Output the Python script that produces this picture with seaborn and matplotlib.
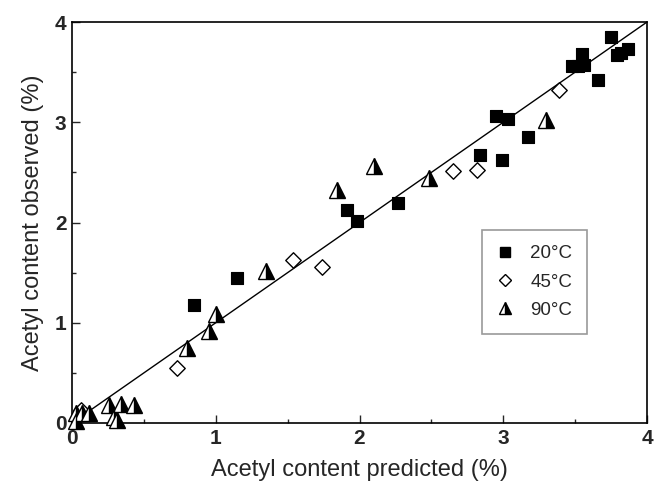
import matplotlib
matplotlib.use("Agg")
import matplotlib.pyplot as plt
from matplotlib.lines import Line2D
import seaborn as sns
import pandas as pd

# ---- data ----
sq_x = [0.85, 1.15, 1.91, 1.98, 2.27, 2.84, 2.99, 2.95, 3.03, 3.17,
        3.48, 3.55, 3.56, 3.52, 3.66, 3.75, 3.79, 3.82, 3.87]
sq_y = [1.18, 1.45, 2.12, 2.02, 2.19, 2.67, 2.62, 3.06, 3.03, 2.85,
        3.56, 3.68, 3.57, 3.56, 3.42, 3.85, 3.67, 3.69, 3.73]

dm_x = [0.06, 0.73, 1.54, 1.74, 2.65, 2.82, 3.39]
dm_y = [0.13, 0.55, 1.63, 1.56, 2.51, 2.52, 3.32]

tr_x = [0.03, 0.07, 0.12, 0.26, 0.34, 0.43, 0.29, 0.31, 0.03,
        0.80, 0.95, 1.00, 1.35, 1.84, 2.10, 2.48, 3.30]
tr_y = [0.10, 0.10, 0.10, 0.18, 0.19, 0.18, 0.06, 0.03, 0.02,
        0.745, 0.92, 1.087, 1.52, 2.32, 2.56, 2.44, 3.02]

fit_x = [0.1, 4.0]
fit_y = [0.1, 4.0]

labels = ["20°C", "45°C", "90°C"]
ticks = [0, 1, 2, 3, 4]

# ---- style ----
sns.set_style("ticks")
plt.rcParams["font.family"] = ["Liberation Sans", "DejaVu Sans"]

fig = plt.figure(figsize=(6.56, 4.96), dpi=100)
ax = fig.add_axes([0.1098, 0.1472, 0.8765, 0.8084])

sq = pd.DataFrame({"x": sq_x, "y": sq_y})
dm = pd.DataFrame({"x": dm_x, "y": dm_y})
tr = pd.DataFrame({"x": tr_x, "y": tr_y})
fit = pd.DataFrame({"x": fit_x, "y": fit_y})

sns.lineplot(data=fit, x="x", y="y", ax=ax, color="black", linewidth=1.0,
             estimator=None, sort=False, legend=False, zorder=1)
sns.scatterplot(data=sq, x="x", y="y", ax=ax, marker="s", s=72,
                color="black", edgecolor="black", linewidth=0.8,
                legend=False, zorder=3, clip_on=False)
sns.scatterplot(data=dm, x="x", y="y", ax=ax, marker="D", s=62,
                color="white", edgecolor="black", linewidth=1.0,
                legend=False, zorder=3, clip_on=False)
sns.lineplot(data=tr, x="x", y="y", ax=ax, estimator=None, sort=False,
             linestyle="", marker="^", markersize=11, color="black",
             fillstyle="right", markerfacecoloralt="white",
             markeredgecolor="black", markeredgewidth=1.0,
             legend=False, zorder=3, clip_on=False)

ax.set_xlim(0, 4)
ax.set_ylim(0, 4)
ax.set_xticks(ticks)
ax.set_yticks(ticks)
ax.set_xticks([0.5, 1.5, 2.5, 3.5], minor=True)
ax.set_yticks([0.5, 1.5, 2.5, 3.5], minor=True)
ax.set_xticklabels([str(t) for t in ticks], fontsize=15, fontweight="bold")
ax.set_yticklabels([str(t) for t in ticks], fontsize=15, fontweight="bold")
ax.tick_params(which="major", direction="in", length=6, width=1.0, pad=4,
               top=False, right=False)
ax.tick_params(which="minor", direction="in", length=3, width=1.0,
               top=False, right=False)

for sp in ax.spines.values():
    sp.set_visible(True)
    sp.set_linewidth(1.2)
    sp.set_color("black")
    sp.set_zorder(2)

ax.set_xlabel("Acetyl content predicted (%)", fontsize=17, labelpad=8)
ax.set_ylabel("Acetyl content observed (%)", fontsize=17, labelpad=8)

handles = [
    Line2D([], [], linestyle="", marker="s", markersize=7, color="black"),
    Line2D([], [], linestyle="", marker="D", markersize=6.5,
           markerfacecolor="white", markeredgecolor="black", markeredgewidth=1.0),
    Line2D([], [], linestyle="", marker="^", markersize=9, color="black",
           fillstyle="right", markerfacecoloralt="white",
           markeredgecolor="black", markeredgewidth=1.0),
]
leg = ax.legend(handles, labels, loc="upper left",
                bbox_to_anchor=(0.7125, 0.481), borderaxespad=0,
                fontsize=13.5, frameon=True, fancybox=False,
                handletextpad=0.9, labelspacing=0.6, borderpad=0.8,
                handlelength=0.9)
leg.get_frame().set_edgecolor("#808080")
leg.get_frame().set_linewidth(1.2)

fig.savefig("out.png", dpi=100)
